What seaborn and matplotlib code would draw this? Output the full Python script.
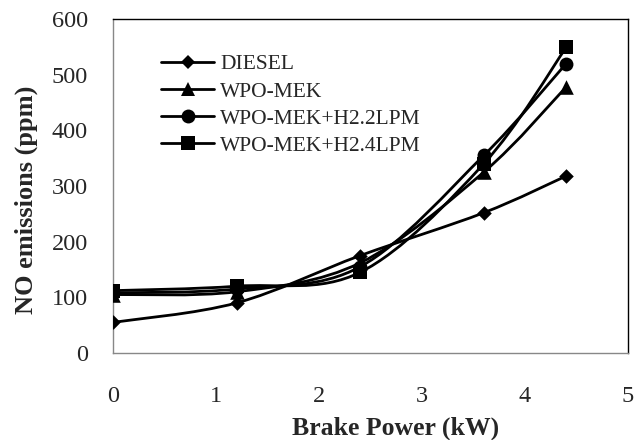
import numpy as np
import pandas as pd
import matplotlib
matplotlib.use("Agg")
import matplotlib.pyplot as plt
from matplotlib.path import Path
from matplotlib.patches import PathPatch
from matplotlib.lines import Line2D
import seaborn as sns

# data
brake_power = [0, 1.2, 2.4, 3.6, 4.4]
diesel = [55, 90, 175, 252, 318]
wpo_mek = [105, 110, 162, 325, 478]
wpo_h22 = [108, 115, 155, 355, 520]
wpo_h24 = [112, 120, 145, 340, 549]

series_names = ["DIESEL", "WPO-MEK", "WPO-MEK+H2.2LPM", "WPO-MEK+H2.4LPM"]
series_vals = [diesel, wpo_mek, wpo_h22, wpo_h24]
markers = {"DIESEL": "D", "WPO-MEK": "^", "WPO-MEK+H2.2LPM": "o", "WPO-MEK+H2.4LPM": "s"}
msizes = {"DIESEL": 55, "WPO-MEK": 110, "WPO-MEK+H2.2LPM": 100, "WPO-MEK+H2.4LPM": 95}

df = pd.DataFrame({
    "x": brake_power * 4,
    "y": sum(series_vals, []),
    "series": [n for n in series_names for _ in brake_power],
})

sns.set_style("white")
plt.rcParams["font.family"] = ["Liberation Serif", "DejaVu Serif"]

fig = plt.figure(figsize=(6.44, 4.4), dpi=100)
ax = fig.add_axes([113 / 644, 1 - 353 / 440, 515 / 644, 334 / 440])


def smooth_path(xs, ys):
    # bezier segments like the spreadsheet "smoothed line" option
    pts = np.column_stack([xs, ys]).astype(float)
    n = len(pts)
    verts = [pts[0]]
    codes = [Path.MOVETO]
    for i in range(n - 1):
        p0 = pts[i - 1] if i > 0 else pts[i]
        p1, p2 = pts[i], pts[i + 1]
        p3 = pts[i + 2] if i + 2 < n else pts[i + 1]
        verts += [p1 + (p2 - p0) / 6, p2 - (p3 - p1) / 6, p2]
        codes += [Path.CURVE4] * 3
    return Path(verts, codes)


for name, vals in zip(series_names, series_vals):
    ax.add_patch(PathPatch(smooth_path(brake_power, vals), fill=False,
                           edgecolor="black", lw=2, zorder=2))

for name in series_names:
    sub = df[df["series"] == name]
    sns.scatterplot(data=sub, x="x", y="y", marker=markers[name], s=msizes[name],
                    color="black", edgecolor="black", linewidth=0, ax=ax,
                    zorder=3, legend=False)

ax.set_xlim(0, 5)
ax.set_ylim(0, 600)
ax.set_xticks(range(0, 6))
ax.set_yticks(range(0, 601, 100))
ax.tick_params(axis="both", direction="out", length=5, width=1, color="#888888",
               labelsize=17.5)
ax.tick_params(axis="y", pad=13)
ax.tick_params(axis="x", pad=19)
for side in ["left", "bottom"]:
    ax.spines[side].set_color("#888888")
for side in ["top", "right"]:
    ax.spines[side].set_color("black")
for s in ax.spines.values():
    s.set_linewidth(1)

ax.set_xlabel("Brake Power (kW)", fontsize=18.5, fontweight="bold")
ax.set_ylabel("NO emissions (ppm)", fontsize=19, fontweight="bold")
ax.xaxis.set_label_coords(0.548, -82 / 334, transform=ax.transAxes)
ax.yaxis.set_label_coords(-87 / 515, 0.458, transform=ax.transAxes)
ax.xaxis.label.set_va("baseline")
ax.yaxis.label.set_va("center")

handles = [Line2D([], [], color="black", lw=2, marker=markers[n],
                  markersize=np.sqrt(msizes[n]), markeredgewidth=0)
           for n in series_names]
ax.legend(handles, series_names, loc="upper left", bbox_to_anchor=(0.077, 0.92),
          frameon=False, fontsize=15.5, handlelength=2.45, handletextpad=0.28,
          labelspacing=0.33, borderaxespad=0)

fig.savefig("out.png", dpi=100)
